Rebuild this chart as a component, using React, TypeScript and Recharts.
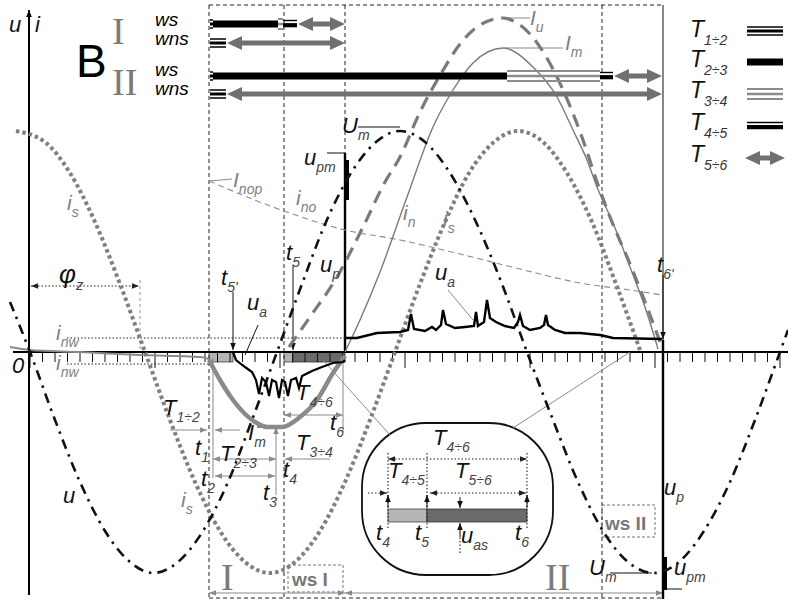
import React from 'react';
import { LineChart, Line, XAxis, YAxis, ReferenceLine, ReferenceArea, ReferenceDot } from 'recharts';

type P = [number, number];

// time t along the axis, value v measured upward from the time axis
const uPoints: P[] = [[10,50],[30,0],[55,-68],[80,-130],[105,-179],[130,-210],[153,-221],[178,-210],[203,-179],[228,-130],[252,-68],[277,0],[302,68],[326,130],[351,179],[376,210],[400,221],[425,210],[450,179],[476,130],[502,68],[527,0],[553,-68],[578,-130],[603,-179],[628,-210],[654,-221],[679,-210],[704,-179],[730,-130],[755,-68],[780,0],[788,22]];
const isPoints: P[] = [[16,221],[45,210],[70,179],[95,130],[120,68],[145,0],[170,-68],[195,-130],[220,-179],[245,-210],[270,-221],[295,-210],[320,-179],[345,-130],[370,-68],[395,0],[420,68],[445,130],[469,179],[494,210],[518,221],[543,210],[567,179],[592,130],[616,68],[640,2]];
const iuPoints: P[] = [[289,5],[310,35],[337,75],[363,125],[385,170],[400,195],[420,240],[442,280],[460,308],[480,327],[503,334],[517,329],[530,318],[548,292],[567,253],[583,212],[597,170],[610,135],[630,88],[647,45],[660,10]];
const inPoints: P[] = [[345,0],[360,32],[380,80],[407,155],[433,225],[453,262],[473,289],[503,304],[533,285],[557,255],[573,222],[587,192],[597,165],[613,129],[630,85],[647,39],[658,3]];
const inoPoints: P[] = [[209,171],[284,141],[345,122],[400,112],[460,98],[520,83],[580,69],[630,62],[662,57]];
const iPrePoints: P[] = [[10,5],[30,2],[80,0],[140,-3],[200,-5],[209,-7]];
const imPoints: P[] = [[209,-8],[220,-28],[233,-48],[245,-62],[255,-70],[267,-75],[282,-75],[300,-65],[317,-48],[333,-21],[340,-11],[345,-4]];
const uaNegPoints: P[] = [[233,0],[236,-8],[245,-15],[252,-20],[256,-28],[259,-42],[262,-26],[266,-30],[269,-44],[272,-28],[276,-30],[279,-46],[282,-28],[285,-30],[288,-44],[291,-28],[296,-26],[299,-36],[302,-24],[306,-22],[312,-19],[322,-15],[333,-11],[343,-10],[345,-8]];
const uaPosPoints: P[] = [[345,14],[357,14],[377,19],[400,20],[408,22],[411,38],[414,23],[425,21],[432,25],[436,22],[441,27],[443,42],[446,28],[455,24],[465,25],[474,26],[476,40],[478,26],[484,30],[487,52],[490,34],[496,30],[505,26],[514,24],[518,30],[520,37],[523,26],[530,22],[540,24],[544,27],[546,37],[548,27],[555,22],[565,19],[580,19],[600,17],[613,14],[662,13]];

const tickTimes: number[] = Array.from({ length: 61 }, (_, k) => 30 + 12.5 * k);

// [t1, v1, t2, v2, style, heads(1 end, 2 start, 3 both)]
const guideSegments: [number, number, number, number, string, number][] = [
  [29,-243,29,342,'ax',1],
  [13,0,788,0,'ax',0],
  [209,347,209,-246,'vd',0],
  [284,347,284,-246,'vd',0],
  [345,347,345,199,'vd',0],
  [602,347,602,-246,'vd',0],
  [663,347,663,12,'tk',0],
  [209,347,663,347,'vd',0],
  [209,-246,663,-246,'vd',0],
  [209,-241,345,-241,'tg',3],
  [345,-241,663,-241,'tg',3],
  [345,0,345,199,'up',0],
  [663,12,663,-247,'up',0],
  [347,192,347,152,'wd',0],
  [665,-205,665,-238,'wd',0],
  [31,66,139,66,'dk',3],
  [140,72,140,0,'dg',0],
  [67,14,345,14,'dk',0],
  [67,-12,209,-12,'dk',0],
  [209,171,232,173,'tg',0],
  [505,334,530,334,'tg',0],
  [505,304,563,304,'tg',0],
  [358,225,400,225,'tk',0],
  [327,199,345,199,'tk',0],
  [448,62,473,32,'tg',0],
  [258,27,245,-3,'tk',0],
  [233,60,233,2,'tk',1],
  [293,87,293,2,'tk',1],
  [663,77,663,13,'tk',1],
  [323,-8,390,-83,'tg',0],
  [513,-76,630,0,'tg',0],
  [170,-78,207,-78,'tg',1],
  [240,-78,215,-78,'tg',1],
  [213,-6,213,-126,'tg',0],
  [213,-107,276,-107,'tg',3],
  [330,-107,285,-107,'tg',1],
  [215,-124,275,-124,'tg',3],
  [276,-143,276,-75,'tg',1],
  [284,-63,343,-63,'tg',3],
  [343,-80,343,-4,'tg',1],
  [257,-75,280,-75,'tk',0],
  [610,-221,652,-221,'tk',0],
  [663,-237,682,-237,'tk',0],
];

const insetSegments: [number, number, number, number, string, number][] = [
  [388,-107,527,-107,'dk',3],
  [368,-141,387,-141,'dk',1],
  [430,-141,526,-141,'dk',3],
  [388,-101,388,-178,'dk',0],
  [427,-101,427,-178,'dk',0],
  [527,-101,527,-178,'dk',0],
  [388,-156,388,-143,'tk',1],
  [427,-156,427,-143,'tk',1],
  [527,-156,527,-143,'tk',1],
  [460,-145,460,-156,'tk',1],
  [460,-201,460,-185,'dk',0],
  [460,-185,460,-171,'tk',1],
];

// [t1, t2, v, kind]
const periodBars: [number, number, number, string][] = [
  [210,213,328,'T12'],[213,278,328,'T23'],[278,283,328,'T34'],[283,297,328,'T45'],[298,345,328,'T56'],
  [210,226,309,'T12'],[227,345,309,'T56'],
  [210,213,276,'T12'],[213,507,276,'T23'],[507,600,276,'T34'],[600,613,276,'T45'],[614,662,276,'T56'],
  [210,226,258,'T12'],[227,662,258,'T56'],
];
const legendBars: [number, number, number, string][] = [
  [747,783,321,'T12'],[747,783,290,'T23'],[747,783,258,'T34'],[747,783,226,'T45'],[745,785,194,'T56'],
];

// [t1, t2, v1, v2, kind]
const areas: [number, number, number, number, string][] = [
  [209,233,0,-10,'light'],[284,293,0,-10,'light'],[293,345,0,-10,'dark'],
  [362,553,-71,-223,'inset'],
  [388,427,-157,-170,'light'],[427,527,-157,-170,'dark'],
  [288,343,-213,-240,'box'],[602,655,-153,-185,'box'],
];

// [t, v (baseline), text, subscript, kind]
const labels: [number, number, string, string, string][] = [
  [9,320,'u','','K'],[35,320,'i','','K'],
  [76,275,'B','','B'],
  [112,308,'I','','R'],[112,257,'II','','R'],
  [155,326,'ws','','W'],[155,307,'wns','','W'],[155,276,'ws','','W'],[155,257,'wns','','W'],
  [690,315,'T','1÷2','L'],[690,285,'T','2÷3','L'],[690,254,'T','3÷4','L'],[690,222,'T','4÷5','L'],[690,190,'T','5÷6','L'],
  [530,327,'I','u','G'],[565,302,'I','m','G'],
  [342,219,'U','m','K'],[304,187,'u','pm','K'],
  [233,165,'I','nop','G'],[296,147,'i','no','G'],[67,142,'i','s','G'],
  [59,69,'φ','z','F'],
  [56,12,'i','nw','G'],[56,-18,'i','nw','G'],
  [12,-21,'0','','K'],
  [221,67,'t',"5'",'K'],[247,42,'u','a','K'],[286,92,'t','5','K'],[320,80,'u','p','K'],
  [403,132,'i','n','G'],[443,126,'i','s','G'],[435,72,'u','a','K'],[657,80,'t',"6'",'K'],
  [163,-63,'T','1÷2','K'],[195,-103,'t','1','K'],[220,-109,'T','2÷3','K'],[201,-134,'t','2','K'],
  [248,-88,'I','m','K'],[296,-98,'T','3÷4','K'],[296,-48,'T','4÷6','K'],[330,-78,'t','6','K'],
  [263,-148,'t','3','K'],[283,-125,'t','4','K'],
  [63,-151,'u','','K'],[181,-155,'i','s','G'],
  [433,-93,'T','4÷6','K'],[388,-126,'T','4÷5','K'],[455,-126,'T','5÷6','K'],
  [376,-188,'t','4','K'],[415,-188,'t','5','K'],[461,-191,'u','as','K'],[515,-188,'t','6','K'],
  [221,-238,'I','','R'],[545,-238,'II','','R'],
  [292,-234,'ws I','','X'],[605,-178,'ws II','','X'],
  [589,-223,'U','m','K'],[674,-223,'u','pm','K'],[664,-143,'u','p','K'],
];

const SANS = "'Liberation Sans', Arial, Helvetica, sans-serif";
const SERIF = "'Liberation Serif', 'Times New Roman', serif";

const KIND: Record<string, any> = {
  K: { f: SANS, z: 22, c: '#111', i: true, sz: 14, sc: '#444', dy: 7 },
  F: { f: SANS, z: 26, c: '#111', i: true, sz: 15, sc: '#444', dy: 7 },
  G: { f: SANS, z: 21, c: '#808080', i: true, sz: 14, sc: '#808080', dy: 7 },
  R: { f: SERIF, z: 38, c: '#7a7a7a', i: false },
  B: { f: SANS, z: 46, c: '#000', i: false },
  W: { f: SANS, z: 19, c: '#000', i: true },
  L: { f: SANS, z: 23, c: '#111', i: true, sz: 14, sc: '#333', dy: 8 },
  X: { f: SANS, z: 19, c: '#777', i: false, w: 700 },
};

const SEG_STYLE: Record<string, { c: string; w: number; d?: string }> = {
  ax: { c: '#000', w: 2 },
  vd: { c: '#222', w: 1, d: '4 3' },
  tk: { c: '#111', w: 1 },
  tg: { c: '#8a8a8a', w: 1 },
  dk: { c: '#222', w: 1.1, d: '1.5 2' },
  dg: { c: '#999', w: 1, d: '3 3' },
  up: { c: '#000', w: 2.4 },
  wd: { c: '#000', w: 4 },
  tick: { c: '#111', w: 1 },
};

const pts = (a: P[]) => a.map(([t, v]) => ({ t, v }));

function arrowHead(xa: number, ya: number, xb: number, yb: number, color: string) {
  const ang = Math.atan2(yb - ya, xb - xa);
  const L = 7, Wd = 2.8;
  const bx = xb - L * Math.cos(ang), by = yb - L * Math.sin(ang);
  const nx = -Math.sin(ang) * Wd, ny = Math.cos(ang) * Wd;
  return <polygon points={`${xb},${yb} ${bx + nx},${by + ny} ${bx - nx},${by - ny}`} fill={color} />;
}

const segShape = (style: string, heads: number) => (p: any) => {
  const { x1, y1, x2, y2 } = p;
  const s = SEG_STYLE[style];
  return (
    <g>
      <line x1={x1} y1={y1} x2={x2} y2={y2} stroke={s.c} strokeWidth={s.w} strokeDasharray={s.d} />
      {heads & 1 ? arrowHead(x1, y1, x2, y2, s.c) : null}
      {heads & 2 ? arrowHead(x2, y2, x1, y1, s.c) : null}
    </g>
  );
};

const barShape = (kind: string) => (p: any) => {
  const a = Math.min(p.x1, p.x2), b = Math.max(p.x1, p.x2), y = p.y1;
  const lines = (spec: number[][], color: string) => (
    <g>
      {spec.map(([o, w], i) => (
        <line key={i} x1={a} x2={b} y1={y + o} y2={y + o} stroke={color} strokeWidth={w} />
      ))}
    </g>
  );
  if (kind === 'T12') return lines([[-4, 1.5], [0, 3], [4, 1.5]], '#000');
  if (kind === 'T23') return <rect x={a} y={y - 3.5} width={b - a} height={7} fill="#000" />;
  if (kind === 'T34') return lines([[-5, 2], [0, 2.5], [5, 2]], '#8c8c8c');
  if (kind === 'T45') return lines([[-3.5, 1.4], [1.2, 4.2]], '#000');
  const hl = 15, hh = 7, s = 2.6;
  const q = [[a, y], [a + hl, y - hh], [a + hl, y - s], [b - hl, y - s], [b - hl, y - hh], [b, y], [b - hl, y + hh], [b - hl, y + s], [a + hl, y + s], [a + hl, y + hh]];
  return <polygon points={q.map((r) => r.join(',')).join(' ')} fill="#707070" />;
};

const areaShape = (kind: string) => (p: any) => {
  const { x, y, width, height } = p;
  if (kind === 'inset') return <rect x={x} y={y} width={width} height={height} rx={64} ry={64} fill="#fff" stroke="#111" strokeWidth={1.8} />;
  if (kind === 'light') return <rect x={x} y={y} width={width} height={height} fill="#b5b5b5" stroke="#444" strokeWidth={0.8} />;
  if (kind === 'dark') return <rect x={x} y={y} width={width} height={height} fill="#6b6b6b" stroke="#333" strokeWidth={0.8} />;
  return <rect x={x} y={y} width={width} height={height} fill="#fff" stroke="#777" strokeWidth={1} strokeDasharray="3 2" />;
};

const textShape = (l: [number, number, string, string, string]) => (p: any) => {
  const k = KIND[l[4]];
  return (
    <text x={p.cx} y={p.cy} fontFamily={k.f} fontSize={k.z} fill={k.c} fontStyle={k.i ? 'italic' : 'normal'} fontWeight={k.w || 400}>
      {l[2]}
      {l[3] ? (
        <tspan dy={k.dy} fontSize={k.sz} fill={k.sc}>
          {l[3]}
        </tspan>
      ) : null}
    </text>
  );
};

const lineCommon = { dot: false as const, activeDot: false as const, isAnimationActive: false, dataKey: 'v' };

export default function App() {
  return (
    <div style={{ position: 'absolute', left: 0, top: 0, width: 788, height: 600, background: '#fff' }}>
      <LineChart width={788} height={600} margin={{ top: 0, right: 0, bottom: 0, left: 0 }}>
        <XAxis type="number" dataKey="t" domain={[0, 788]} hide allowDataOverflow />
        <YAxis type="number" domain={[-248, 352]} hide allowDataOverflow />
        {tickTimes.map((t, k) => (
          <ReferenceLine key={'tk' + k} segment={[{ x: t, y: 0 }, { x: t, y: k % 10 === 0 ? -16 : -10 }]} shape={segShape('tick', 0)} />
        ))}
        {guideSegments.map((s, i) => (
          <ReferenceLine key={'g' + i} segment={[{ x: s[0], y: s[1] }, { x: s[2], y: s[3] }]} shape={segShape(s[4], s[5])} />
        ))}
        <Line data={pts(iPrePoints)} {...lineCommon} type="monotone" stroke="#8a8a8a" strokeWidth={2} />
        <Line data={pts(inoPoints)} {...lineCommon} type="monotone" stroke="#8c8c8c" strokeWidth={1.1} strokeDasharray="6 4" />
        <Line data={pts(isPoints)} {...lineCommon} type="monotone" stroke="#808080" strokeWidth={4} strokeDasharray="3.5 3" />
        <Line data={pts(iuPoints)} {...lineCommon} type="monotone" stroke="#7a7a7a" strokeWidth={3.2} strokeDasharray="13 8" />
        <Line data={pts(inPoints)} {...lineCommon} type="monotone" stroke="#7a7a7a" strokeWidth={1.4} />
        <Line data={pts(imPoints)} {...lineCommon} type="monotone" stroke="#8a8a8a" strokeWidth={4.5} />
        <Line data={pts(uPoints)} {...lineCommon} type="monotone" stroke="#111" strokeWidth={2.6} strokeDasharray="10 6 2.5 6" />
        <Line data={pts(uaNegPoints)} {...lineCommon} type="linear" stroke="#000" strokeWidth={2.2} />
        <Line data={pts(uaPosPoints)} {...lineCommon} type="linear" stroke="#000" strokeWidth={2.4} />
        {areas.map((a, i) => (
          <ReferenceArea key={'a' + i} x1={a[0]} x2={a[1]} y1={a[2]} y2={a[3]} shape={areaShape(a[4])} />
        ))}
        {insetSegments.map((s, i) => (
          <ReferenceLine key={'is' + i} segment={[{ x: s[0], y: s[1] }, { x: s[2], y: s[3] }]} shape={segShape(s[4], s[5])} />
        ))}
        {periodBars.concat(legendBars).map((b, i) => (
          <ReferenceLine key={'b' + i} segment={[{ x: b[0], y: b[2] }, { x: b[1], y: b[2] }]} shape={barShape(b[3])} />
        ))}
        {labels.map((l, i) => (
          <ReferenceDot key={'l' + i} x={l[0]} y={l[1]} r={1} fill="none" stroke="none" shape={textShape(l)} />
        ))}
      </LineChart>
    </div>
  );
}
